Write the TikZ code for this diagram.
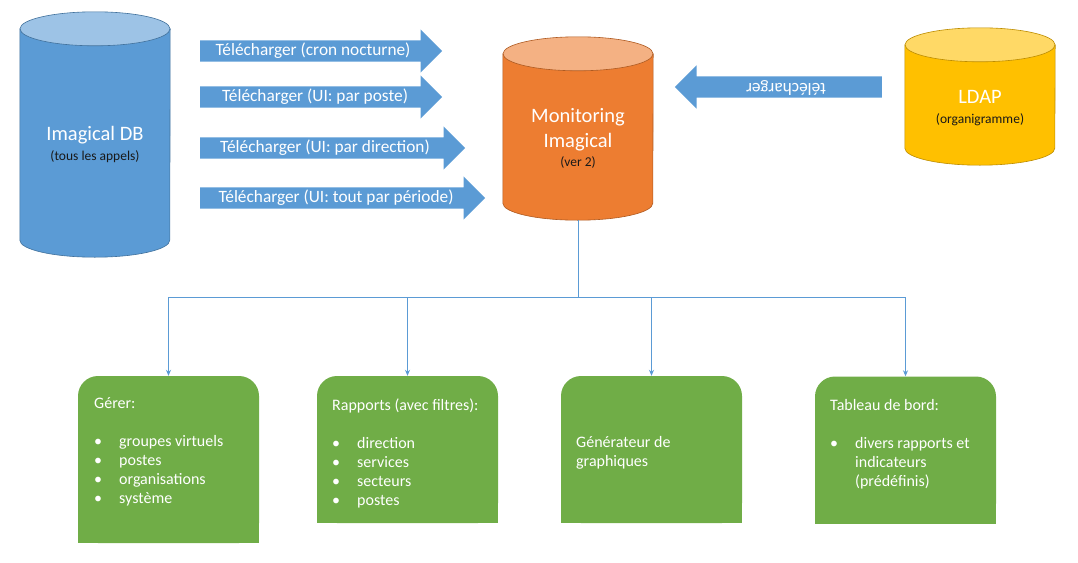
\documentclass[tikz,border=0pt]{standalone}
\usepackage{fontspec}
\setmainfont{Carlito}
\usepackage{xcolor}
\usepackage{tikz}
\usetikzlibrary{arrows.meta, positioning, shapes.arrows, backgrounds}

\definecolor{dbblue}{HTML}{5B9BD5}
\definecolor{dbbluetop}{HTML}{9DC3E6}
\definecolor{dbblueline}{HTML}{41719C}
\definecolor{monorange}{HTML}{ED7D31}
\definecolor{monorangetop}{HTML}{F4B183}
\definecolor{monorangeline}{HTML}{AE5A21}
\definecolor{ldapgold}{HTML}{FFC000}
\definecolor{ldapgoldtop}{HTML}{FFD966}
\definecolor{ldapgoldline}{HTML}{BC8C00}
\definecolor{boxgreen}{HTML}{70AD47}

\newcommand{\bitem}[1]{\makebox[25pt][l]{\textbullet}#1}

\tikzset{
  dbbox/.style={rectangle, minimum width=150pt, inner sep=0pt},
  dlarrow/.style={single arrow, fill=dbblue, single arrow head extend=11pt,
    single arrow tip angle=90, inner xsep=0pt, inner ysep=10.5pt, anchor=tail},
  dltext/.style={text=white, font=\fontsize{17.3}{20}\selectfont},
  dbtitle/.style={text=white, font=\fontsize{20.5}{25}\selectfont, align=center},
  dbnote/.style={text=black!90, font=\fontsize{13.5}{16}\selectfont},
  greenbox/.style={fill=boxgreen, rounded corners=20pt, minimum width=181pt, inner sep=0pt},
  boxtext/.style={text=white, font=\fontsize{16}{19}\selectfont, anchor=base west, inner sep=0pt},
  tree/.style={draw=dbblue, line width=0.75pt},
}

\begin{document}
\begin{tikzpicture}[x=1pt, y=-1pt]
    \path[use as bounding box] (0,0) rectangle (1078,562);

    % databases
    \node[dbbox, minimum height=245pt] (imagical) at (95,134.5) {};
    \node[dbbox, minimum height=183pt] (monitor) at (578,128.5) {};
    \node[dbbox, minimum height=137pt] (ldap) at (980,96.5) {};
    \foreach \n/\body/\top/\edge in {imagical/dbblue/dbbluetop/dbblueline,
        monitor/monorange/monorangetop/monorangeline, ldap/ldapgold/ldapgoldtop/ldapgoldline} {
      \filldraw[fill=\body, draw=\edge, line width=0.6pt]
        ([yshift=-17pt]\n.north west) -- ([yshift=17pt]\n.south west)
        arc[start angle=180, end angle=360, x radius=75pt, y radius=17pt]
        -- ([yshift=-17pt]\n.north east) -- cycle;
      \filldraw[fill=\top, draw=\edge, line width=0.6pt]
        ([yshift=-17pt]\n.north) ellipse[x radius=75pt, y radius=17pt];
    }

    \node[dbtitle] (imagicalt) at (95,135) {Imagical DB};
    \node[dbnote] (imagicaln) at (95,157) {(tous les appels)};
    \node[dbtitle] (monitort) at (578,129.5) {Monitoring\\Imagical};
    \node[dbnote] (monitorn) at (578,162) {(ver 2)};
    \node[dbtitle] (ldapt) at (980,97) {LDAP};
    \node[dbnote] (ldapn) at (980,120) {(organigramme)};

    % downloads
    \node[dlarrow, minimum height=242pt] (dl1) at (200,51) {};
    \node[dlarrow, minimum height=242pt] (dl2) at (200,97) {};
    \node[dlarrow, minimum height=265pt] (dl3) at (200,148) {};
    \node[dlarrow, minimum height=285pt] (dl4) at (200,198) {};
    \node[dltext] (dl1t) at (313,51) {Télécharger (cron nocturne)};
    \node[dltext] (dl2t) at (315,97) {Télécharger (UI: par poste)};
    \node[dltext] (dl3t) at (325,148) {Télécharger (UI: par direction)};
    \node[dltext] (dl4t) at (336,198) {Télécharger (UI: tout par période)};

    \node[dlarrow, minimum height=207pt, shape border rotate=180] (ldapdl) at (882,87) {};
    \node[dltext, rotate=180] (ldapdlt) at (786,88) {télécharger};

    % modules
    \node[greenbox, minimum height=167pt] (gerer) at (168.5,459.5) {};
    \node[greenbox, minimum height=147pt] (rapports) at (407.5,449.5) {};
    \node[greenbox, minimum height=147pt] (graph) at (651.5,449.5) {};
    \node[greenbox, minimum height=147pt] (tableau) at (905.5,450) {};

    \begin{scope}[on background layer]
      \foreach \b in {gerer, rapports, graph, tableau}
        \fill[boxgreen] (\b.west) rectangle (\b.south east);
    \end{scope}

    \node[boxtext] (gerert) at (94,408) {\parbox[t]{160pt}{Gérer:\\[19pt]
      \bitem{groupes virtuels}\\\bitem{postes}\\\bitem{organisations}\\\bitem{système}}};
    \node[boxtext] (rapportst) at (332,410) {\parbox[t]{160pt}{Rapports (avec filtres):\\[19pt]
      \bitem{direction}\\\bitem{services}\\\bitem{secteurs}\\\bitem{postes}}};
    \node[boxtext] (grapht) at (576,447) {\parbox[t]{160pt}{Générateur de\\graphiques}};
    \node[boxtext] (tableaut) at (830,410) {\parbox[t]{160pt}{Tableau de bord:\\[19pt]
      \bitem{divers rapports et}\\\hspace*{25pt}indicateurs\\\hspace*{25pt}(prédéfinis)}};

    % tree
    \coordinate (hub) at (578,297);
    \draw[tree] (monitor.south) -- (hub);
    \foreach \b in {gerer, rapports, graph, tableau}
      \draw[tree, -{Stealth[length=6pt, width=5pt]}] (hub) -| (\b.north);
\end{tikzpicture}
\end{document}
